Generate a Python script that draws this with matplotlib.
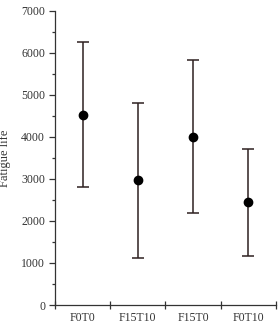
import matplotlib
matplotlib.use('Agg')
from matplotlib import pyplot as plt
import numpy as np

groups = ['F0T0', 'F15T10', 'F15T0', 'F0T10']
mean_life = [4530, 2980, 4000, 2440]
upper_life = [6270, 4815, 5835, 3715]
lower_life = [2805, 1130, 2190, 1165]

plt.rcParams['font.family'] = ['Liberation Serif', 'DejaVu Serif']

fig = plt.figure(figsize=(2.8, 3.25), dpi=100)
ax = fig.add_axes([0.196, 0.0615, 0.79, 0.905])

x = np.arange(len(groups))
mean_life = np.array(mean_life)
yerr = [mean_life - np.array(lower_life), np.array(upper_life) - mean_life]
ax.errorbar(x, mean_life, yerr=yerr, fmt='o', color='black', ecolor='#2e2020',
            markersize=6, capsize=4, elinewidth=1.1, capthick=1.1)

ax.set_xlim(-0.5, len(groups) - 0.5)
ax.set_ylim(0, 7000)
ax.set_yticks(np.arange(0, 7001, 1000))
ax.set_yticks(np.arange(500, 7000, 1000), minor=True)
ax.set_xticks(np.arange(-0.5, len(groups), 1.0))
ax.set_xticklabels([])
ax.set_xticks(x, minor=True)
ax.set_xticklabels(groups, minor=True)
ax.tick_params(which='both', labelsize=8.5, colors='#333333')
ax.tick_params(axis='x', which='major', direction='inout', length=6, width=0.9)
ax.tick_params(axis='x', which='minor', length=0, pad=5)
ax.tick_params(axis='y', which='major', length=4, width=0.9, pad=3)
ax.tick_params(axis='y', which='minor', length=2.5, width=0.9)

for s in ['top', 'right']:
    ax.spines[s].set_visible(False)
for s in ['left', 'bottom']:
    ax.spines[s].set_linewidth(0.9)
    ax.spines[s].set_color('#333333')

ax.set_ylabel('Fatigue life', fontsize=9, color='#333333')
ax.yaxis.set_label_coords(-0.2, 0.5)

fig.savefig('out.png', dpi=100)
